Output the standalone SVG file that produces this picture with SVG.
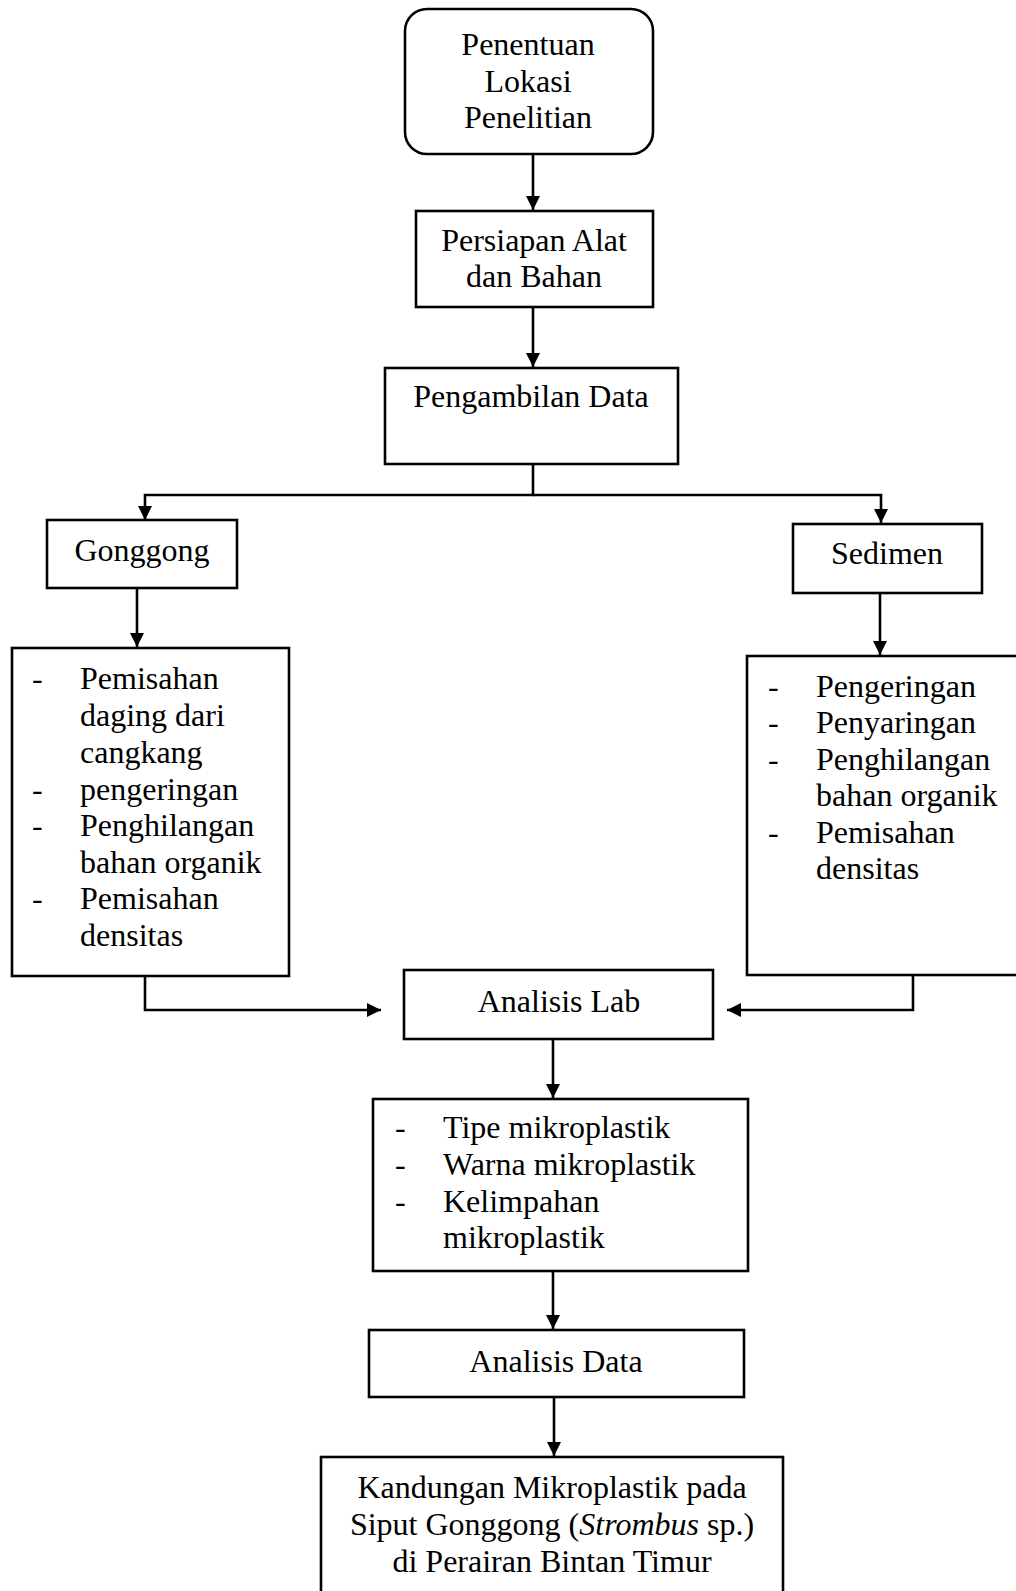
<svg xmlns="http://www.w3.org/2000/svg" width="1016" height="1591" viewBox="0 0 1016 1591">
<defs>
<marker id="ah" markerUnits="userSpaceOnUse" markerWidth="14" markerHeight="14" refX="14" refY="7" orient="auto">
<path d="M0,0 L14,7 L0,14 z" fill="#000"/>
</marker>
<style>
.box{fill:#fff;stroke:#000;stroke-width:2.6}
.t{font-family:"Liberation Serif","Times New Roman",serif;font-size:32px;fill:#000}
.c{text-anchor:middle}
.ln{fill:none;stroke:#000;stroke-width:2.6}
</style>
</defs>
<rect width="1016" height="1591" fill="#fff"/>
<g id="connectors">
<path class="ln" d="M533,154 V210" marker-end="url(#ah)"/>
<path class="ln" d="M533,307 V367" marker-end="url(#ah)"/>
<path class="ln" d="M533,464 V495 H145 V520" marker-end="url(#ah)"/>
<path class="ln" d="M533,495 H881 V523" marker-end="url(#ah)"/>
<path class="ln" d="M137,588 V647" marker-end="url(#ah)"/>
<path class="ln" d="M880,593 V655" marker-end="url(#ah)"/>
<path class="ln" d="M145,976 V1010 H381" marker-end="url(#ah)"/>
<path class="ln" d="M913,975 V1010 H727" marker-end="url(#ah)"/>
<path class="ln" d="M553,1039 V1098" marker-end="url(#ah)"/>
<path class="ln" d="M553,1271 V1329" marker-end="url(#ah)"/>
<path class="ln" d="M554,1397 V1456" marker-end="url(#ah)"/>
</g>
<g id="n1">
<rect class="box" x="405" y="9" width="248" height="145" rx="22"/>
<text class="t c" x="528" y="55">Penentuan</text>
<text class="t c" x="528" y="92">Lokasi</text>
<text class="t c" x="528" y="128">Penelitian</text>
</g>
<g id="n2">
<rect class="box" x="416" y="211" width="237" height="96"/>
<text class="t c" x="534" y="251">Persiapan Alat</text>
<text class="t c" x="534" y="287">dan Bahan</text>
</g>
<g id="n3">
<rect class="box" x="385" y="368" width="293" height="96"/>
<text class="t c" x="531" y="407">Pengambilan Data</text>
</g>
<g id="n4">
<rect class="box" x="47" y="520" width="190" height="68"/>
<text class="t c" x="142" y="561">Gonggong</text>
</g>
<g id="n5">
<rect class="box" x="793" y="524" width="189" height="69"/>
<text class="t c" x="887" y="564">Sedimen</text>
</g>
<g id="n6">
<rect class="box" x="12" y="648" width="277" height="328"/>
<text class="t" x="32" y="689">-</text>
<text class="t" x="80" y="689">Pemisahan</text>
<text class="t" x="80" y="726">daging dari</text>
<text class="t" x="80" y="763">cangkang</text>
<text class="t" x="32" y="800">-</text>
<text class="t" x="80" y="800">pengeringan</text>
<text class="t" x="32" y="836">-</text>
<text class="t" x="80" y="836">Penghilangan</text>
<text class="t" x="80" y="873">bahan organik</text>
<text class="t" x="32" y="909">-</text>
<text class="t" x="80" y="909">Pemisahan</text>
<text class="t" x="80" y="946">densitas</text>
</g>
<g id="n7">
<rect class="box" x="747" y="656" width="300" height="319"/>
<text class="t" x="768" y="697">-</text>
<text class="t" x="816" y="697">Pengeringan</text>
<text class="t" x="768" y="733">-</text>
<text class="t" x="816" y="733">Penyaringan</text>
<text class="t" x="768" y="770">-</text>
<text class="t" x="816" y="770">Penghilangan</text>
<text class="t" x="816" y="806">bahan organik</text>
<text class="t" x="768" y="843">-</text>
<text class="t" x="816" y="843">Pemisahan</text>
<text class="t" x="816" y="879">densitas</text>
</g>
<g id="n8">
<rect class="box" x="404" y="970" width="309" height="69"/>
<text class="t c" x="559" y="1012">Analisis Lab</text>
</g>
<g id="n9">
<rect class="box" x="373" y="1099" width="375" height="172"/>
<text class="t" x="395" y="1138">-</text>
<text class="t" x="443" y="1138">Tipe mikroplastik</text>
<text class="t" x="395" y="1175">-</text>
<text class="t" x="443" y="1175">Warna mikroplastik</text>
<text class="t" x="395" y="1212">-</text>
<text class="t" x="443" y="1212">Kelimpahan</text>
<text class="t" x="443" y="1248">mikroplastik</text>
</g>
<g id="n10">
<rect class="box" x="369" y="1330" width="375" height="67"/>
<text class="t c" x="556" y="1372">Analisis Data</text>
</g>
<g id="n11">
<rect class="box" x="321" y="1457" width="462" height="150"/>
<text class="t c" x="552" y="1498">Kandungan Mikroplastik pada</text>
<text class="t c" x="552" y="1535">Siput Gonggong (<tspan font-style="italic">Strombus</tspan> sp.)</text>
<text class="t c" x="552" y="1572">di Perairan Bintan Timur</text>
</g>
</svg>
